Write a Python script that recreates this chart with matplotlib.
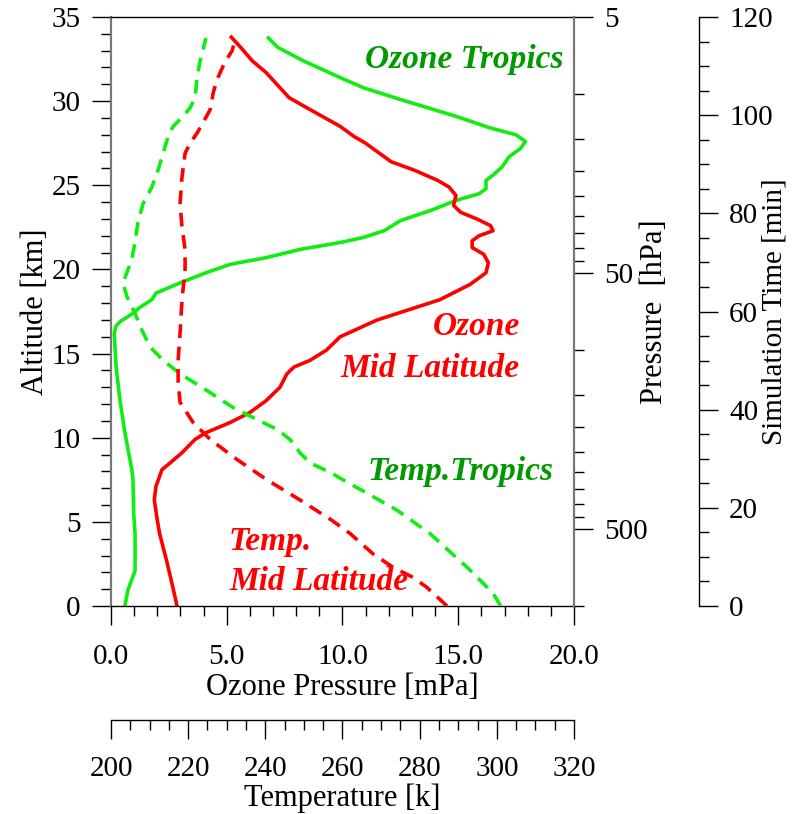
import matplotlib
matplotlib.use('Agg')
import matplotlib.pyplot as plt
from matplotlib.ticker import MultipleLocator, FixedLocator, NullFormatter, FuncFormatter

plt.rcParams['font.family'] = 'Liberation Serif'

# ozone partial pressure [mPa] vs altitude [km]
ozone_trop_alt = [0, 0.95, 2.1, 4.3, 5.5, 7.5, 8.1, 10.3, 12.2, 14.2, 16.2, 16.6, 16.9, 17.4, 17.7,
                  18.2, 18.6, 19.2, 19.8, 20.3, 20.7, 21.2, 21.6, 21.9, 22.3, 22.9, 23.5, 24.1,
                  24.5, 24.8, 25.3, 25.6, 26.1, 26.7, 27.2, 27.6, 28.0, 28.4, 29.1, 30.1, 30.8,
                  31.4, 32.4, 33.2, 33.75]
ozone_trop = [0.6, 0.73, 1.04, 1.04, 0.98, 0.95, 0.9, 0.6, 0.39, 0.22, 0.14, 0.2, 0.39, 0.96, 1.2,
              1.76, 1.95, 2.98, 4.1, 5.14, 6.7, 8.2, 9.9, 10.9, 11.8, 12.5, 13.8, 14.9,
              15.9, 16.2, 16.2, 16.5, 16.9, 17.2, 17.7, 17.9, 17.5, 16.4, 14.9, 12.5, 10.9,
              9.9, 8.3, 7.2, 6.8]

ozone_mid_alt = [0, 0.95, 2.7, 4.3, 5.1, 6.3, 7.1, 8.1, 8.5, 9.1, 9.9, 10.3, 10.9, 11.5, 12.2,
                 13.0, 13.8, 14.2, 14.6, 15.2, 16.0, 17.0, 18.2, 19.1, 19.8, 20.4, 20.9, 21.3,
                 21.7, 22.0, 22.3, 22.6, 23.0, 23.4, 23.8, 24.4, 24.9, 25.3, 25.9, 26.4, 26.9,
                 27.5, 27.9, 28.5, 29.5, 30.2, 30.8, 31.7, 32.4, 33.2, 33.8]
ozone_mid = [2.85, 2.7, 2.4, 2.1, 2.0, 1.87, 1.94, 2.2, 2.55, 3.06, 3.63, 4.1, 5.14, 6.0, 6.7,
             7.3, 7.6, 7.9, 8.6, 9.3, 9.9, 11.5, 14.2, 15.5, 16.2, 16.3, 16.1, 15.6,
             15.6, 15.9, 16.5, 16.4, 15.8, 15.1, 14.8, 14.9, 14.6, 14.1, 13.1, 12.1, 11.6,
             11.0, 10.5, 9.9, 8.6, 7.7, 7.3, 6.7, 6.1, 5.6, 5.2]

# temperature [K] vs altitude [km]
temp_trop_alt = [0, 0.77, 2.3, 4.3, 5.7, 6.7, 7.5, 7.9, 8.5, 9.1, 9.9, 10.5, 11.2, 11.8, 12.8,
                 13.8, 14.6, 15.4, 16.4, 17.4, 18.4, 19.2, 19.8, 20.6, 21.6, 22.8, 23.9, 24.9,
                 25.9, 26.9, 27.9, 28.5, 29.1, 29.6, 30.2, 31.4, 32.4, 33.0, 33.75]
temp_trop = [301.0, 299.0, 292.3, 282.7, 274.1, 266.4, 260.1, 257.2, 251.6, 249.0, 246.4, 243.0,
             236.8, 231.6, 224.9, 217.9, 213.5, 210.1, 208.0, 206.2, 204.1, 203.1, 204.1, 205.4,
             206.2, 207.0, 208.3, 210.6, 212.2, 213.5, 214.8, 216.1, 218.7, 220.5, 221.8, 222.3,
             223.1, 223.8, 224.6]

temp_mid_alt = [0, 1.1, 1.7, 2.3, 3.1, 4.3, 5.1, 6.3, 7.5, 8.7, 9.9, 10.9, 12.1, 13.3, 14.6,
                16.2, 18.2, 20.0, 21.2, 22.5, 23.9, 25.5, 26.9, 27.5, 28.1, 28.7, 29.5, 30.5,
                31.3, 32.3, 33.0, 33.6]
temp_mid = [287.1, 281.9, 278.3, 273.1, 267.9, 262.0, 257.2, 249.0, 240.4, 232.7, 225.7, 221.3,
            217.9, 217.4, 217.4, 217.9, 218.4, 219.2, 219.2, 218.4, 217.9, 218.4, 219.2, 220.5,
            222.3, 223.8, 225.7, 226.5, 227.5, 229.5, 231.4, 232.1]

pressure_major = [5, 50, 500]
pressure_minor = [10, 15, 20, 25, 30, 35, 40, 45,
                  100, 150, 200, 250, 300, 350, 400, 450, 1000]

green = '#10ee10'
red = '#ff0000'
text_green = '#009a00'
gray = '#787878'

fig = plt.figure(figsize=(7.94, 8.14), dpi=100)
ax = fig.add_axes([0.1398, 0.2555, 0.5831, 0.7236])

tick_major = dict(which='major', length=13.7, width=1.0, labelsize=21)
tick_minor = dict(which='minor', length=7.2, width=1.0)
label_size = 22

# main axes: ozone pressure / altitude
ax.plot(ozone_trop, ozone_trop_alt, color=green, lw=2.6, solid_joinstyle='round')
ax.plot(ozone_mid, ozone_mid_alt, color=red, lw=2.6, solid_joinstyle='round')
ax.set_xlim(0, 20)
ax.set_ylim(0, 35)
ax.xaxis.set_major_locator(MultipleLocator(5))
ax.xaxis.set_minor_locator(MultipleLocator(1))
ax.xaxis.set_major_formatter(FuncFormatter(lambda v, _: f'{v:.1f}'))
ax.yaxis.set_major_locator(MultipleLocator(5))
ax.yaxis.set_minor_locator(MultipleLocator(1))
ax.tick_params(axis='both', direction='out', **tick_major)
ax.tick_params(axis='both', direction='out', **tick_minor)
ax.tick_params(axis='x', which='major', pad=14)
ax.tick_params(axis='y', which='major', pad=8)
ax.set_xlabel('Ozone Pressure [mPa]', fontsize=label_size)
ax.xaxis.set_label_coords(0.5, -0.114)
ax.set_ylabel('Altitude [km]', fontsize=label_size)
ax.yaxis.set_label_coords(-0.131, 0.5)
ax.spines['left'].set_color(gray)
ax.spines['left'].set_linewidth(1.6)
ax.spines['right'].set_visible(False)
ax.spines['top'].set_linewidth(1.0)
ax.spines['bottom'].set_linewidth(1.0)

# temperature axis below
axT = ax.twiny()
axT.plot(temp_trop, temp_trop_alt, color=green, lw=2.6, dashes=(3.8, 2.4))
axT.plot(temp_mid, temp_mid_alt, color=red, lw=2.6, dashes=(3.8, 2.4))
axT.set_xlim(200, 320)
axT.xaxis.set_ticks_position('bottom')
axT.xaxis.set_label_position('bottom')
axT.spines['bottom'].set_position(('outward', 82))
for s in ['top', 'left', 'right']:
    axT.spines[s].set_visible(False)
axT.spines['bottom'].set_linewidth(1.0)
axT.xaxis.set_major_locator(MultipleLocator(20))
axT.xaxis.set_minor_locator(MultipleLocator(5))
axT.tick_params(axis='x', direction='out', **tick_major)
axT.tick_params(axis='x', direction='out', **tick_minor)
axT.tick_params(axis='x', which='major', pad=12)
axT.set_xlabel('Temperature [k]', fontsize=label_size)
axT.xaxis.set_label_coords(0.5, -0.302)

# pressure axis on the right
axP = ax.twinx()
axP.set_yscale('log')
axP.set_ylim(1000, 5)
axP.yaxis.set_major_locator(FixedLocator(pressure_major))
axP.yaxis.set_minor_locator(FixedLocator(pressure_minor))
axP.yaxis.set_major_formatter(FuncFormatter(lambda v, _: f'{v:g}'))
axP.yaxis.set_minor_formatter(NullFormatter())
axP.tick_params(axis='y', direction='out', **tick_major)
axP.tick_params(axis='y', direction='out', **tick_minor)
axP.tick_params(axis='y', which='major', pad=8)
axP.set_ylabel('Pressure  [hPa]', fontsize=label_size)
axP.yaxis.set_label_coords(1.143, 0.5)
for s in ['top', 'left', 'bottom']:
    axP.spines[s].set_visible(False)
axP.spines['right'].set_color(gray)
axP.spines['right'].set_linewidth(1.6)

# simulation time axis further right
axS = ax.twinx()
axS.set_ylim(0, 120)
axS.spines['right'].set_position(('outward', 90))
for s in ['top', 'left', 'bottom']:
    axS.spines[s].set_visible(False)
axS.spines['right'].set_linewidth(1.0)
axS.yaxis.set_major_locator(MultipleLocator(20))
axS.yaxis.set_minor_locator(MultipleLocator(5))
axS.tick_params(axis='y', direction='out', **tick_major)
axS.tick_params(axis='y', direction='out', **tick_minor)
axS.tick_params(axis='y', which='major', pad=8)
axS.set_ylabel('Simulation Time [min]', fontsize=21)
axS.yaxis.set_label_coords(1.404, 0.5)

# curve annotations
anno = dict(fontsize=24, fontweight='bold', style='italic', va='baseline')
ax.text(15.25, 31.97, 'Ozone Tropics', color=text_green, ha='center', **anno)
ax.text(17.67, 16.10, 'Ozone', color=red, ha='right', **anno)
ax.text(17.67, 13.61, 'Mid Latitude', color=red, ha='right', **anno)
ax.text(15.08, 7.49, 'Temp.Tropics', color=text_green, ha='center', **anno)
ax.text(5.1, 3.33, 'Temp.', color=red, ha='left', **anno)
ax.text(5.1, 0.95, 'Mid Latitude', color=red, ha='left', **anno)

fig.savefig('out.png', dpi=100)
